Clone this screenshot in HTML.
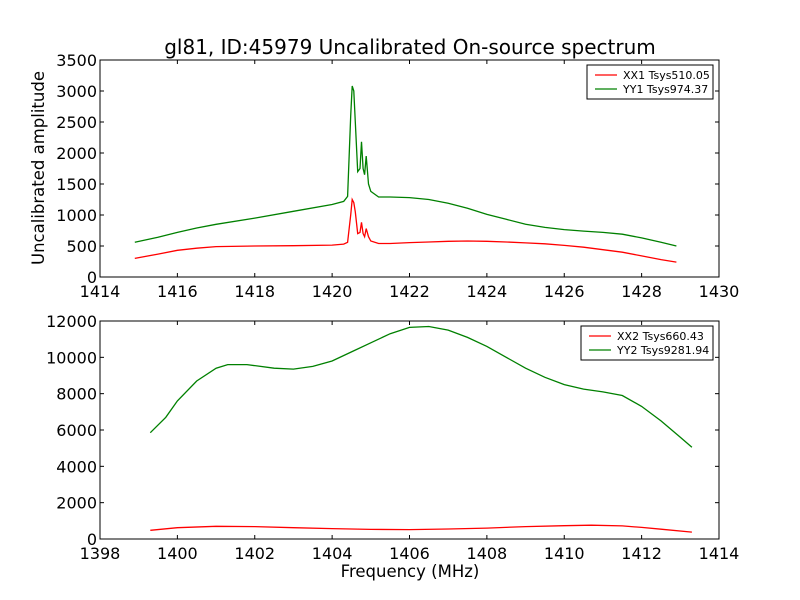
<!DOCTYPE html>
<html><head><meta charset="utf-8"><style>
body{margin:0;background:#fff;}
svg{display:block;font-family:"DejaVu Sans","Liberation Sans",sans-serif;}
</style></head><body>
<svg id="chart" width="800" height="600" xmlns="http://www.w3.org/2000/svg">
<rect width="800" height="600" fill="#fff"/>
<text x="410" y="54" font-size="20" text-anchor="middle">gl81, ID:45979 Uncalibrated On-source spectrum</text>
<text x="410" y="577" font-size="16.5" text-anchor="middle">Frequency (MHz)</text>
<text transform="translate(44,168) rotate(-90)" font-size="16.5" text-anchor="middle">Uncalibrated amplitude</text>
</svg>
<script>
const topFreq=[1414.9,1415.5,1416,1416.5,1417,1418,1419,1420,1420.3,1420.4,1420.48,1420.52,1420.56,1420.6,1420.66,1420.72,1420.76,1420.8,1420.84,1420.88,1420.94,1421.0,1421.2,1421.5,1422,1422.5,1423,1423.5,1424,1424.5,1425,1425.5,1426,1426.5,1427,1427.5,1428,1428.5,1428.9];
const xx1=[300,370,430,465,490,500,505,515,530,560,1000,1250,1200,1050,700,720,880,700,650,780,650,580,540,540,555,565,575,580,575,565,550,535,510,480,440,400,340,280,240];
const yy1=[560,640,720,790,850,950,1060,1170,1220,1300,2600,3080,3000,2500,1700,1750,2180,1750,1650,1950,1500,1380,1290,1290,1280,1250,1190,1110,1010,930,850,800,765,740,720,690,630,560,500];
const botFreqXX=[1399.3,1400,1401,1402,1403,1404,1405,1406,1407,1408,1409,1410,1410.7,1411.5,1412,1412.5,1413.3];
const xx2=[480,620,700,680,620,570,530,520,550,600,680,730,760,720,640,540,380];
const botFreqYY=[1399.3,1399.7,1400,1400.5,1401,1401.3,1401.8,1402.5,1403,1403.5,1404,1404.5,1405,1405.5,1406,1406.5,1407,1407.5,1408,1408.5,1409,1409.5,1410,1410.5,1411,1411.5,1412,1412.5,1413,1413.3];
const yy2=[5850,6700,7600,8700,9400,9600,9600,9400,9350,9500,9800,10300,10800,11300,11650,11700,11500,11100,10600,10000,9400,8900,8500,8250,8100,7900,7300,6500,5600,5050];
const topXTicks=[1414,1416,1418,1420,1422,1424,1426,1428,1430];
const topYTicks=[0,500,1000,1500,2000,2500,3000,3500];
const botXTicks=[1398,1400,1402,1404,1406,1408,1410,1412,1414];
const botYTicks=[0,2000,4000,6000,8000,10000,12000];

const svg=document.getElementById('chart');
const NS='http://www.w3.org/2000/svg';
function mk(tag,attrs,parent){const e=document.createElementNS(NS,tag);for(const k in attrs)e.setAttribute(k,attrs[k]);(parent||svg).appendChild(e);return e;}

function panel(name,L,T,R,B,x0,x1,y0,y1,xt,yt,series,legend){
  const g=mk('g',{});
  
  
  const sx=v=>L+(v-x0)/(x1-x0)*(R-L);
  const sy=v=>B-(v-y0)/(y1-y0)*(B-T);
  series.forEach(s=>{
    const d=s.x.map((v,i)=>(i?'L':'M')+sx(v).toFixed(1)+','+sy(s.y[i]).toFixed(1)).join('');
    const p=mk('path',{d:d,fill:'none',stroke:s.c,'stroke-width':1.3},g);
    
    
  });
  const fr=mk('rect',{x:L,y:T,width:R-L,height:B-T,fill:'none',stroke:'#000','stroke-width':1},g);
  
  
  xt.forEach(v=>{
    const x=sx(v);
    mk('line',{x1:x,x2:x,y1:B,y2:B-4,stroke:'#000'},g);
    mk('line',{x1:x,x2:x,y1:T,y2:T+4,stroke:'#000'},g);
    const t=mk('text',{x:x,y:B+20,'font-size':16,'text-anchor':'middle'},g);
    t.textContent=v;
    
    
  });
  yt.forEach(v=>{
    const y=sy(v);
    mk('line',{x1:L,x2:L+4,y1:y,y2:y,stroke:'#000'},g);
    mk('line',{x1:R,x2:R-4,y1:y,y2:y,stroke:'#000'},g);
    const t=mk('text',{x:L-3,y:y+6,'font-size':16,'text-anchor':'end'},g);
    t.textContent=v;
    
    
  });
  const lg=mk('g',{},g);
  
  
  mk('rect',{x:legend.x,y:legend.y,width:legend.w,height:34,fill:'#fff',stroke:'#000'},lg);
  series.forEach((s,i)=>{
    const y=legend.y+10+i*14;
    mk('line',{x1:legend.x+8,x2:legend.x+30,y1:y,y2:y,stroke:s.c,'stroke-width':1.3},lg);
    const t=mk('text',{x:legend.x+36,y:y+4,'font-size':11},lg);
    t.textContent=s.label;
    
    
  });
}
panel('top-panel',100,60,719,277,1414,1430,0,3500,topXTicks,topYTicks,
  [{x:topFreq,y:xx1,c:'#ff0000',n:'xx1-line',label:'XX1 Tsys510.05'},{x:topFreq,y:yy1,c:'#008000',n:'yy1-line',label:'YY1 Tsys974.37'}],
  {x:587,y:65,w:126});
panel('bottom-panel',100,321,719,539,1398,1414,0,12000,botXTicks,botYTicks,
  [{x:botFreqXX,y:xx2,c:'#ff0000',n:'xx2-line',label:'XX2 Tsys660.43'},{x:botFreqYY,y:yy2,c:'#008000',n:'yy2-line',label:'YY2 Tsys9281.94'}],
  {x:581,y:326,w:132});
</script>
</body></html>
